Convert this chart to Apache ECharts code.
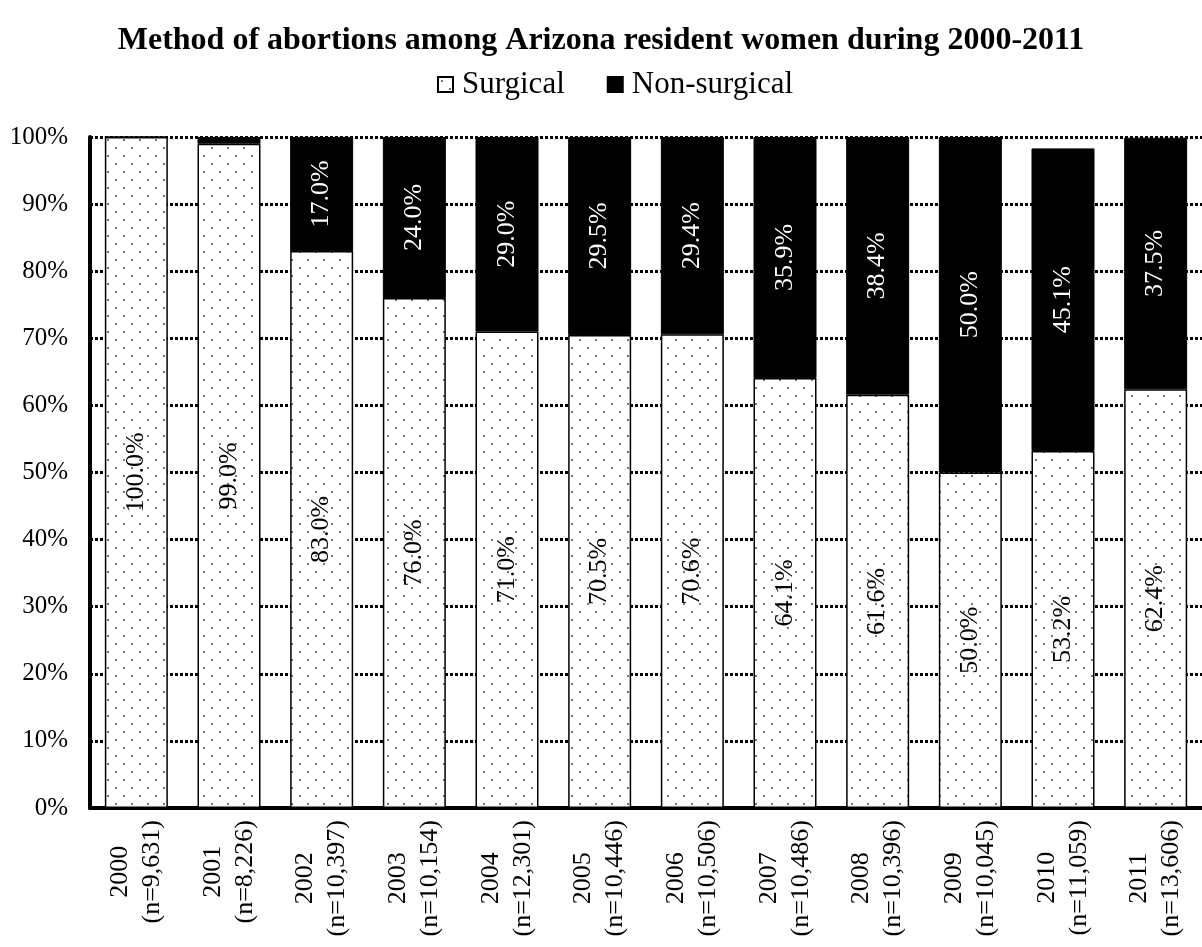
<!DOCTYPE html>
<html>
<head>
<meta charset="utf-8">
<script src="https://cdn.jsdelivr.net/npm/echarts@6/dist/echarts.min.js"></script>
<style>
  html, body { margin: 0; padding: 0; background: #fff; }
  #chart { width: 1202px; height: 947px; }
</style>
</head>
<body>
<div id="chart"></div>
<script>
// Abortion method shares by year, Arizona residents
const years = ['2000', '2001', '2002', '2003', '2004', '2005', '2006', '2007', '2008', '2009', '2010', '2011'];
const counts = ['9,631', '8,226', '10,397', '10,154', '12,301', '10,446', '10,506', '10,486', '10,396', '10,045', '11,059', '13,606'];
const surgical = [100.0, 99.0, 83.0, 76.0, 71.0, 70.5, 70.6, 64.1, 61.6, 50.0, 53.2, 62.4];
const nonSurgical = [0.0, 1.0, 17.0, 24.0, 29.0, 29.5, 29.4, 35.9, 38.4, 50.0, 45.1, 37.5];
const yTicks = [0, 10, 20, 30, 40, 50, 60, 70, 80, 90, 100];

const SERIF = '"Liberation Serif", "Times New Roman", serif';

// Stippled fill for the surgical bars
function dotPattern() {
  const c = document.createElement('canvas');
  c.width = 16; c.height = 16;
  const g = c.getContext('2d');
  g.fillStyle = '#fff';
  g.fillRect(0, 0, 16, 16);
  g.fillStyle = '#777';
  g.fillRect(3, 3, 2, 2);
  g.fillRect(11, 11, 2, 2);
  return c;
}

const chart = echarts.init(document.getElementById('chart'), null, { renderer: 'canvas' });

const categoryLabels = years.map((y, i) => y + '\n(n=' + counts[i] + ')');

function valueLabel(color) {
  return {
    show: true,
    position: 'inside',
    rotate: 90,
    color: color,
    fontFamily: SERIF,
    fontSize: 26,
    formatter: p => (p.value >= 5 ? p.value.toFixed(1) + '%' : '')
  };
}

chart.setOption({
  animation: false,
  backgroundColor: '#fff',
  title: {
    text: 'Method of abortions among Arizona resident women during 2000-2011',
    left: 'center',
    top: 20,
    textStyle: { fontFamily: SERIF, fontWeight: 'bold', fontSize: 32, color: '#000' }
  },
  legend: {
    top: 64,
    left: 432,
    itemWidth: 15,
    itemHeight: 15,
    itemGap: 42,
    icon: 'rect',
    textStyle: { fontFamily: SERIF, fontSize: 31, color: '#000', padding: [0, 0, 0, 4] },
    data: ['Surgical', 'Non-surgical']
  },
  grid: { left: 90, top: 137, width: 1120, height: 671, containLabel: false },
  xAxis: {
    type: 'category',
    data: categoryLabels,
    axisLine: { show: true, lineStyle: { color: '#000', width: 4 } },
    axisTick: { show: false },
    axisLabel: {
      interval: 0,
      rotate: 90,
      margin: 12,
      color: '#000',
      fontFamily: SERIF,
      fontSize: 26,
      lineHeight: 32,
      formatter: v => v.split('\n').map(s => '{c|' + s + '}').join('\n'),
      rich: { c: { align: 'center', fontFamily: SERIF, fontSize: 26, lineHeight: 32, color: '#000' } }
    }
  },
  yAxis: {
    type: 'value',
    min: yTicks[0],
    max: yTicks[yTicks.length - 1],
    interval: 10,
    axisLine: { show: true, lineStyle: { color: '#000', width: 4 } },
    axisTick: { show: false },
    axisLabel: {
      margin: 22,
      color: '#000',
      fontFamily: SERIF,
      fontSize: 25,
      formatter: v => v + '%'
    },
    splitLine: { show: true, lineStyle: { color: '#000', width: 3, type: [3, 2] } }
  },
  series: [
    {
      name: 'Surgical',
      type: 'bar',
      stack: 'method',
      barWidth: 63,
      data: surgical,
      itemStyle: { color: { image: dotPattern(), repeat: 'repeat' }, borderColor: '#000', borderWidth: 1.5 },
      label: valueLabel('#000')
    },
    {
      name: 'Non-surgical',
      type: 'bar',
      stack: 'method',
      barWidth: 63,
      data: nonSurgical,
      itemStyle: { color: '#000', borderColor: '#000', borderWidth: 1 },
      label: valueLabel('#fff')
    }
  ]
});
</script>
</body>
</html>
